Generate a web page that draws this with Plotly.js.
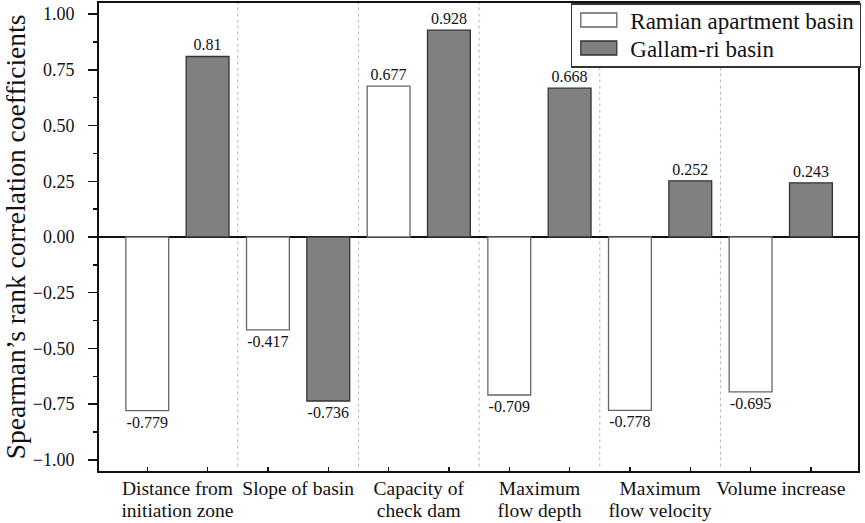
<!DOCTYPE html>
<html>
<head>
<meta charset="utf-8">
<script src="https://cdn.plot.ly/plotly-3.0.1.min.js"></script>
<style>html,body{margin:0;padding:0;background:#fff;}#chart{width:865px;height:523px;}</style>
</head>
<body>
<div id="chart"></div>
<script>
const categories = ["Distance from<br>initiation zone", "Slope of basin", "Capacity of<br>check dam", "Maximum<br>flow depth", "Maximum<br>flow velocity", "Volume increase"];
const seriesNames = ["Ramian apartment basin", "Gallam-ri basin"];
const ramian = [-0.779, -0.417, 0.677, -0.709, -0.778, -0.695];
const gallam = [0.81, -0.736, 0.928, 0.668, 0.252, 0.243];
const yTicks = [-1.0, -0.75, -0.5, -0.25, 0, 0.25, 0.5, 0.75, 1.0];

const FONT = "Liberation Serif, Times New Roman, serif";
const idx = categories.map((c, i) => i);

const traces = [
  {
    type: "bar", name: seriesNames[0], x: idx, y: ramian,
    text: ramian.map(String), textposition: "outside", cliponaxis: false,
    textfont: {family: FONT, size: 16, color: "#111"},
    marker: {color: "#ffffff", line: {color: "#666", width: 1.3}},
    hoverinfo: "y"
  },
  {
    type: "bar", name: seriesNames[1], x: idx, y: gallam,
    text: gallam.map(String), textposition: "outside", cliponaxis: false,
    textfont: {family: FONT, size: 16, color: "#111"},
    marker: {color: "#808080", line: {color: "#333", width: 1.3}},
    hoverinfo: "y"
  },
  {
    type: "scatter", x: [], y: [], xaxis: "x2", showlegend: false, hoverinfo: "skip"
  }
];

const sepShapes = idx.slice(0, -1).map(i => ({
  type: "line", xref: "x", yref: "y", x0: i + 0.5, x1: i + 0.5, y0: -1.03, y1: 1.05,
  line: {color: "#b5b5b5", width: 1, dash: "dot"}, layer: "below"
}));

const tickPos = [];
idx.forEach(i => { tickPos.push(i - 0.25); tickPos.push(i + 0.25); });

const layout = {
  width: 865, height: 523,
  margin: {l: 99, r: 5, t: 3, b: 52},
  paper_bgcolor: "#fff", plot_bgcolor: "#fff",
  font: {family: FONT, color: "#111"},
  barmode: "group", bargap: 0, bargroupgap: 0.29,
  showlegend: true,
  legend: {
    x: 0.6216, y: 1, xanchor: "left", yanchor: "top",
    bgcolor: "#fff", bordercolor: "#333", borderwidth: 1.5,
    font: {family: FONT, size: 23, color: "#111"},
    itemwidth: 48, tracegroupgap: 0
  },
  xaxis: {
    type: "linear", range: [-0.65, 5.64],
    tickvals: idx, ticktext: categories, ticks: "",
    tickfont: {family: FONT, size: 19.5, color: "#111"},
    ticklabelstandoff: -1,
    showline: true, linecolor: "#111", linewidth: 2, mirror: true,
    showgrid: false, zeroline: false, fixedrange: true
  },
  xaxis2: {
    overlaying: "x", anchor: "y", side: "bottom", type: "linear",
    range: [-0.65, 5.64], tickvals: tickPos, ticks: "inside", ticklen: 4,
    tickwidth: 1.5, tickcolor: "#111", showticklabels: false,
    showgrid: false, zeroline: false, showline: false
  },
  yaxis: {
    range: [-1.05, 1.05], tickvals: yTicks, tickformat: ".2f",
    ticks: "outside", ticklen: 9, tickwidth: 1.5, tickcolor: "#111",
    minor: {dtick: 0.125, tick0: 0, ticks: "outside", ticklen: 4, tickwidth: 1.5, tickcolor: "#111", showgrid: false},
    ticklabelstandoff: 10,
    tickfont: {family: FONT, size: 18, color: "#111"},
    showline: true, linecolor: "#111", linewidth: 2, mirror: true,
    showgrid: false, zeroline: true, zerolinecolor: "#111", zerolinewidth: 1.5,
    title: {text: "Spearman\u2019s rank correlation coefficients", font: {family: FONT, size: 27.5, color: "#111"}, standoff: 1},
    automargin: false
  },
  shapes: sepShapes
};

function parseT(el) {
  const t = el.getAttribute("transform") || "";
  const m = /translate\(\s*([-\d.e]+)[\s,]+([-\d.e]+)\s*\)/.exec(t);
  return m ? [parseFloat(m[1]), parseFloat(m[2])] : [0, 0];
}

Plotly.newPlot("chart", traces, layout, {displayModeBar: false, staticPlot: true}).then(gd => {
  // tighter line spacing for two-line category labels
  gd.querySelectorAll(".xtick text tspan.line").forEach(ts => {
    if (ts.getAttribute("dy") === "1.3em") ts.setAttribute("dy", "1.13em");
  });
  const leg = gd.querySelector(".legend");
  if (!leg) return;
  const [lx, ly] = parseT(leg);
  leg.querySelectorAll(".legendpoints path").forEach(p => {
    p.setAttribute("d", "M15.5,7H-20.5V-7H15.5Z");
  });
  leg.querySelectorAll("g.traces").forEach((g, i) => {
    const [tx] = parseT(g);
    g.setAttribute("transform", "translate(" + tx + "," + (20 - ly + 28 * i) + ")");
  });
  const bg = leg.querySelector("rect.bg");
  if (bg) {
    bg.setAttribute("width", 289);
    bg.setAttribute("height", 63);
  }
});
</script>
</body>
</html>
